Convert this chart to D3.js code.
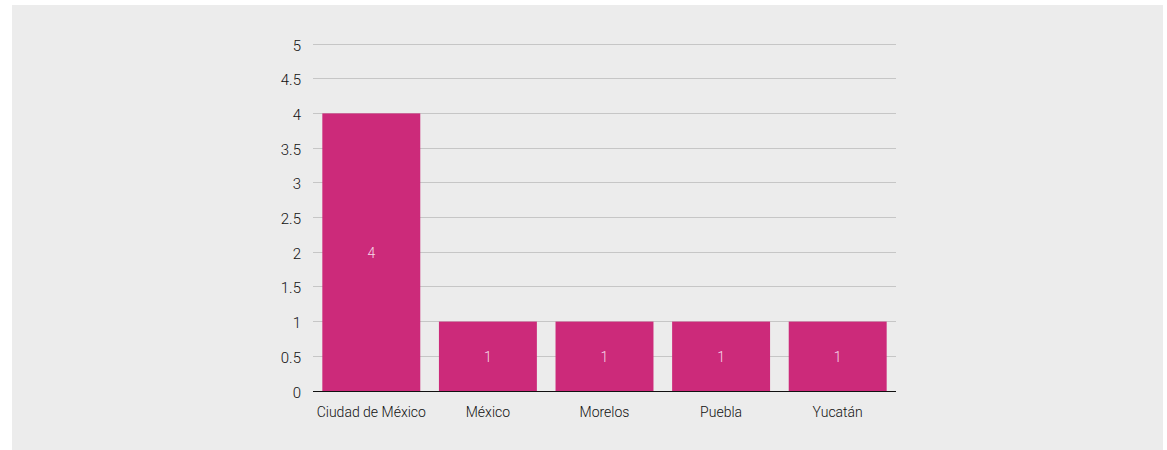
<!DOCTYPE html>
<html><head><meta charset="utf-8">
<script src="https://cdn.jsdelivr.net/npm/d3@7"></script>
<style>
html,body{margin:0;padding:0;background:#fff;}
svg{display:block;}
text{font-family:"Roboto","DejaVu Sans Condensed",sans-serif;font-weight:300;}
</style></head>
<body><svg id="c" width="1167" height="450"></svg>
<script>
const categories = ["Ciudad de México","México","Morelos","Puebla","Yucatán"];
const values = [4,1,1,1,1];
const yTicks = [0,0.5,1,1.5,2,2.5,3,3.5,4,4.5,5];

(function(){
const svg = d3.select("#c");
svg.append("rect").attr("x",12).attr("y",5).attr("width",1151).attr("height",445).attr("fill","#ececec");

const pL=313, pR=896, pT=44, pB=391;
const x = d3.scaleBand().domain(categories).range([pL,pR]).paddingInner(0.16).paddingOuter(0.08);
const y = d3.scaleLinear().domain([0,5]).range([pB,pT]);

svg.append("g").selectAll("line").data(yTicks.filter(t=>t>0)).join("line")
  .attr("x1",pL).attr("x2",pR)
  .attr("y1",d=>y(d)).attr("y2",d=>y(d))
  .attr("stroke","#c6c6c6").attr("stroke-width",1).attr("shape-rendering","crispEdges");

const yAxis = d3.axisLeft(y).tickValues(yTicks).tickSize(0).tickPadding(12).tickFormat(d3.format("~g"));
const ga = svg.append("g").attr("transform",`translate(${pL},0)`).call(yAxis);
ga.select(".domain").remove();
ga.attr("font-family",null).attr("font-size",null);
ga.selectAll("text").attr("font-size",15).attr("fill","#111").attr("dy","0.4em");

svg.append("g").selectAll("rect").data(values).join("rect")
  .attr("x",(d,i)=>x(categories[i])).attr("width",x.bandwidth())
  .attr("y",d=>y(d)).attr("height",d=>y(0)-y(d))
  .attr("fill","#cc2a7a");

svg.append("g").selectAll("text").data(values).join("text")
  .attr("x",(d,i)=>x(categories[i])+x.bandwidth()/2)
  .attr("y",d=>y(d/2)).attr("dy","0.4em")
  .attr("text-anchor","middle").attr("font-size",14).attr("fill","#f6d9e8")
  .text(d=>d);

svg.append("line").attr("x1",pL).attr("x2",pR).attr("y1",y(0)).attr("y2",y(0))
  .attr("stroke","#111").attr("stroke-width",1).attr("shape-rendering","crispEdges");

const xAxis = d3.axisBottom(x).tickSize(0).tickPadding(16);
const gx = svg.append("g").attr("transform",`translate(0,${pB})`).call(xAxis);
gx.select(".domain").remove();
gx.attr("font-family",null).attr("font-size",null);
gx.selectAll("text").attr("font-size",14).attr("fill","#111");
})();
</script></body></html>
